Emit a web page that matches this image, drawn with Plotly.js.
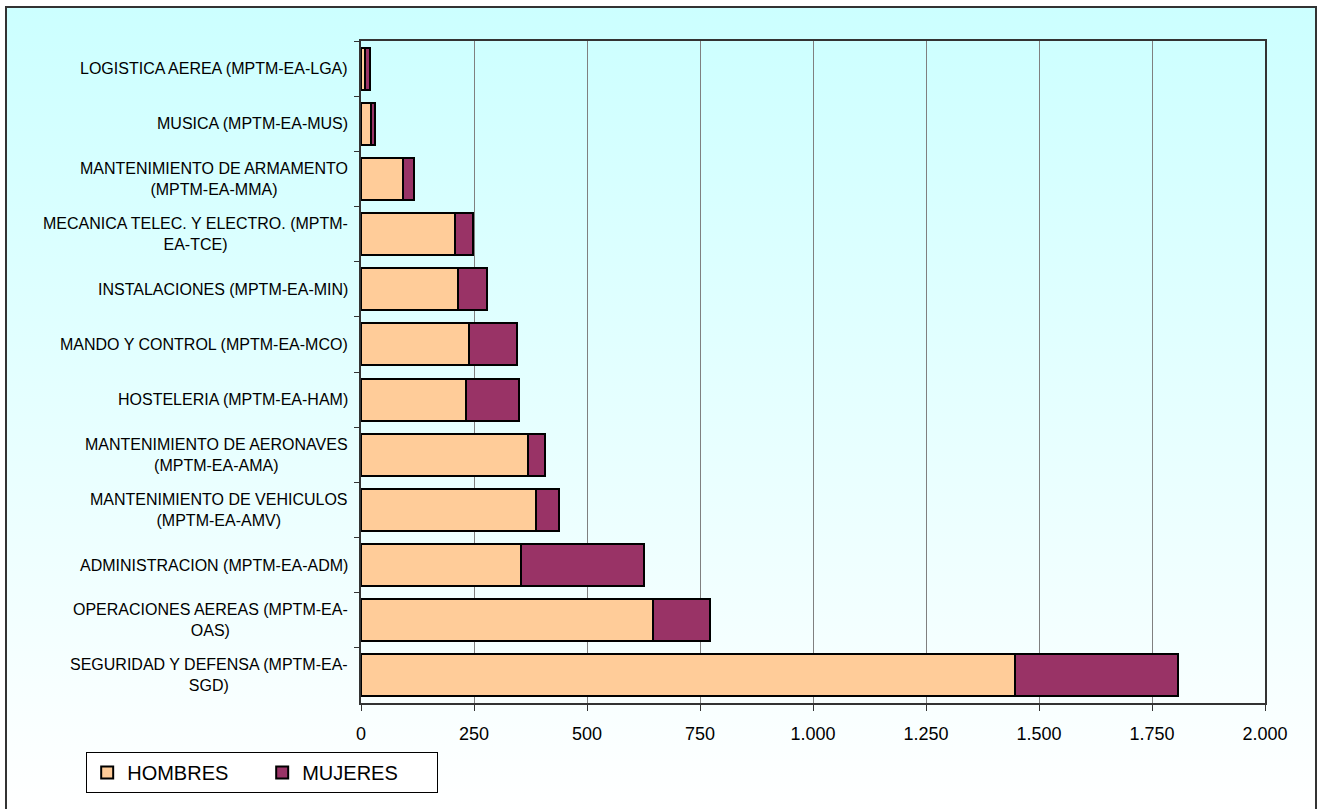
<!DOCTYPE html>
<html>
<head>
<meta charset="utf-8">
<script src="https://cdn.plot.ly/plotly-3.0.1.min.js"></script>
<style>
  html, body { margin: 0; padding: 0; background: #ffffff; width: 1318px; height: 809px; overflow: hidden; }
  #frame { position: absolute; left: 5px; top: 6px; width: 1312px; height: 830px; box-sizing: border-box;
           border: 2px solid #333333; background: linear-gradient(to bottom, #CCFFFF 0px, #FFFFFF 803px); }
  #chart { position: absolute; left: 0; top: 0; width: 1318px; height: 809px; }
</style>
</head>
<body>
<div id="frame"></div>
<div id="chart"></div>
<script>
const categories = [
  "LOGISTICA AEREA (MPTM-EA-LGA)",
  "MUSICA (MPTM-EA-MUS)",
  "MANTENIMIENTO DE ARMAMENTO<br>(MPTM-EA-MMA)",
  "MECANICA TELEC. Y ELECTRO. (MPTM-<br>EA-TCE)",
  "INSTALACIONES (MPTM-EA-MIN)",
  "MANDO Y CONTROL (MPTM-EA-MCO)",
  "HOSTELERIA (MPTM-EA-HAM)",
  "MANTENIMIENTO DE AERONAVES<br>(MPTM-EA-AMA)",
  "MANTENIMIENTO DE VEHICULOS<br>(MPTM-EA-AMV)",
  "ADMINISTRACION (MPTM-EA-ADM)",
  "OPERACIONES AEREAS (MPTM-EA-<br>OAS)",
  "SEGURIDAD Y DEFENSA (MPTM-EA-<br>SGD)"
];
const hombres = [9, 23, 92, 208, 215, 240, 232, 370, 387, 355, 645, 1446];
const mujeres = [12, 8, 25, 40, 64, 106, 118, 37, 51, 272, 127, 361];
const seriesNames = ["HOMBRES", "MUJERES"];
const xTicks = [0, 250, 500, 750, 1000, 1250, 1500, 1750, 2000];

const font = "Arial, 'Liberation Sans', sans-serif";

const traces = [
  { type: "bar", orientation: "h", name: seriesNames[0], y: categories, x: hombres,
    marker: { color: "#FFCC99", line: { color: "#000000", width: 2 } }, hoverinfo: "x+name" },
  { type: "bar", orientation: "h", name: seriesNames[1], y: categories, x: mujeres,
    marker: { color: "#993366", line: { color: "#000000", width: 2 } }, hoverinfo: "x+name" }
];

const annotations = categories.map(c => ({
  xref: "paper", yref: "y", x: 0, y: c, xanchor: "right", yanchor: "middle",
  xshift: -11, align: "center", showarrow: false, text: c,
  font: { family: font, size: 16, color: "#000000" }
}));

const layout = {
  width: 1318, height: 809,
  margin: { l: 361, r: 53, t: 41, b: 106 },
  paper_bgcolor: "rgba(0,0,0,0)",
  plot_bgcolor: "rgba(0,0,0,0)",
  barmode: "stack",
  bargap: 0.24,
  separators: ",.",
  font: { family: font, size: 16, color: "#000000" },
  xaxis: {
    range: [0, 2000], tickvals: xTicks, tickformat: ",", showgrid: true,
    gridcolor: "#808080", gridwidth: 1, zeroline: false,
    showline: true, linecolor: "#333333", linewidth: 2, mirror: true,
    ticks: "outside", ticklen: 6, tickcolor: "#333333", tickwidth: 1,
    ticklabelstandoff: 7,
    tickfont: { family: font, size: 18, color: "#000000" }, fixedrange: true
  },
  yaxis: {
    autorange: "reversed", showticklabels: false, showgrid: false, zeroline: false,
    showline: true, linecolor: "#333333", linewidth: 2, mirror: true,
    ticks: "outside", ticklen: 5, tickson: "boundaries", tickcolor: "#333333", fixedrange: true
  },
  showlegend: true,
  legend: {
    orientation: "h", x: -0.304, y: -0.074, xanchor: "left", yanchor: "top",
    traceorder: "normal", bgcolor: "#FFFFFF", bordercolor: "#000000", borderwidth: 1,
    font: { family: font, size: 20, color: "#000000" }, entrywidth: 130
  },
  annotations: annotations
};

Plotly.newPlot("chart", traces, layout, { displayModeBar: false, staticPlot: true });
</script>
</body>
</html>
